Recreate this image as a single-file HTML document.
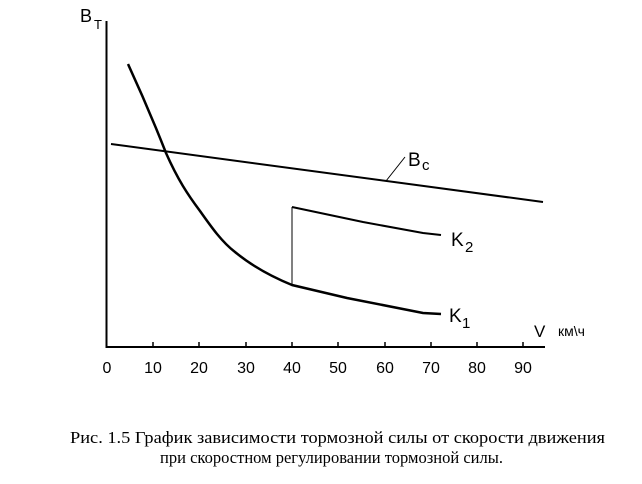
<!DOCTYPE html>
<html><head><meta charset="utf-8"><style>
html,body{margin:0;padding:0;background:#fff;width:642px;height:484px;overflow:hidden}
</style></head><body>
<svg width="642" height="484" viewBox="0 0 642 484" xmlns="http://www.w3.org/2000/svg">
<g fill="none" stroke="#000">
<path d="M106.5 21 V347 H545" stroke-width="2"/>
<g stroke-width="1.5">
<path d="M153 347v-5M199 347v-5M246 347v-5M292 347v-5M338 347v-5M385 347v-5M431 347v-5M477 347v-5M523 347v-5"/>
</g>
<path d="M111 144 L543 202" stroke-width="2"/>
<path d="M386 181 L405 157" stroke-width="1"/>
<path d="M128 64 C140 90 155 125 166 153 C178 180 188 195 200 211 C212 228 222 242 235 252 C252 266 270 276 292 285 L347 298 L423 313 L441 314" stroke-width="2.5"/>
<path d="M292 207 L363 222 L423 233 L441 235" stroke-width="2"/>
<path d="M292 207 V285" stroke-width="1"/>
</g>
<g font-family="Liberation Sans, sans-serif" fill="#000">
<text x="80" y="22" font-size="18">B</text><text x="94" y="29" font-size="13">Т</text>
<text x="408" y="166" font-size="19">B</text><text x="422" y="170" font-size="15">c</text>
<text x="451" y="246" font-size="19">K</text><text x="465" y="252" font-size="15">2</text>
<text x="449" y="322" font-size="19">K</text><text x="462" y="328" font-size="15">1</text>
<text x="534" y="337" font-size="17">V</text>
<text x="558" y="336" font-size="14">км\ч</text>
<g font-size="16" text-anchor="middle">
<text x="107" y="373">0</text><text x="153" y="373">10</text><text x="199" y="373">20</text><text x="246" y="373">30</text><text x="292" y="373">40</text><text x="338" y="373">50</text><text x="385" y="373">60</text><text x="431" y="373">70</text><text x="477" y="373">80</text><text x="523" y="373">90</text>
</g>
</g>
<g font-family="Liberation Serif, serif" font-size="17" fill="#000">
<text x="70" y="443" textLength="535" lengthAdjust="spacingAndGlyphs">Рис. 1.5  График зависимости тормозной силы от скорости движения</text>
<text x="160" y="463" textLength="343" lengthAdjust="spacingAndGlyphs">при скоростном регулировании тормозной силы.</text>
</g>
</svg>
</body></html>
